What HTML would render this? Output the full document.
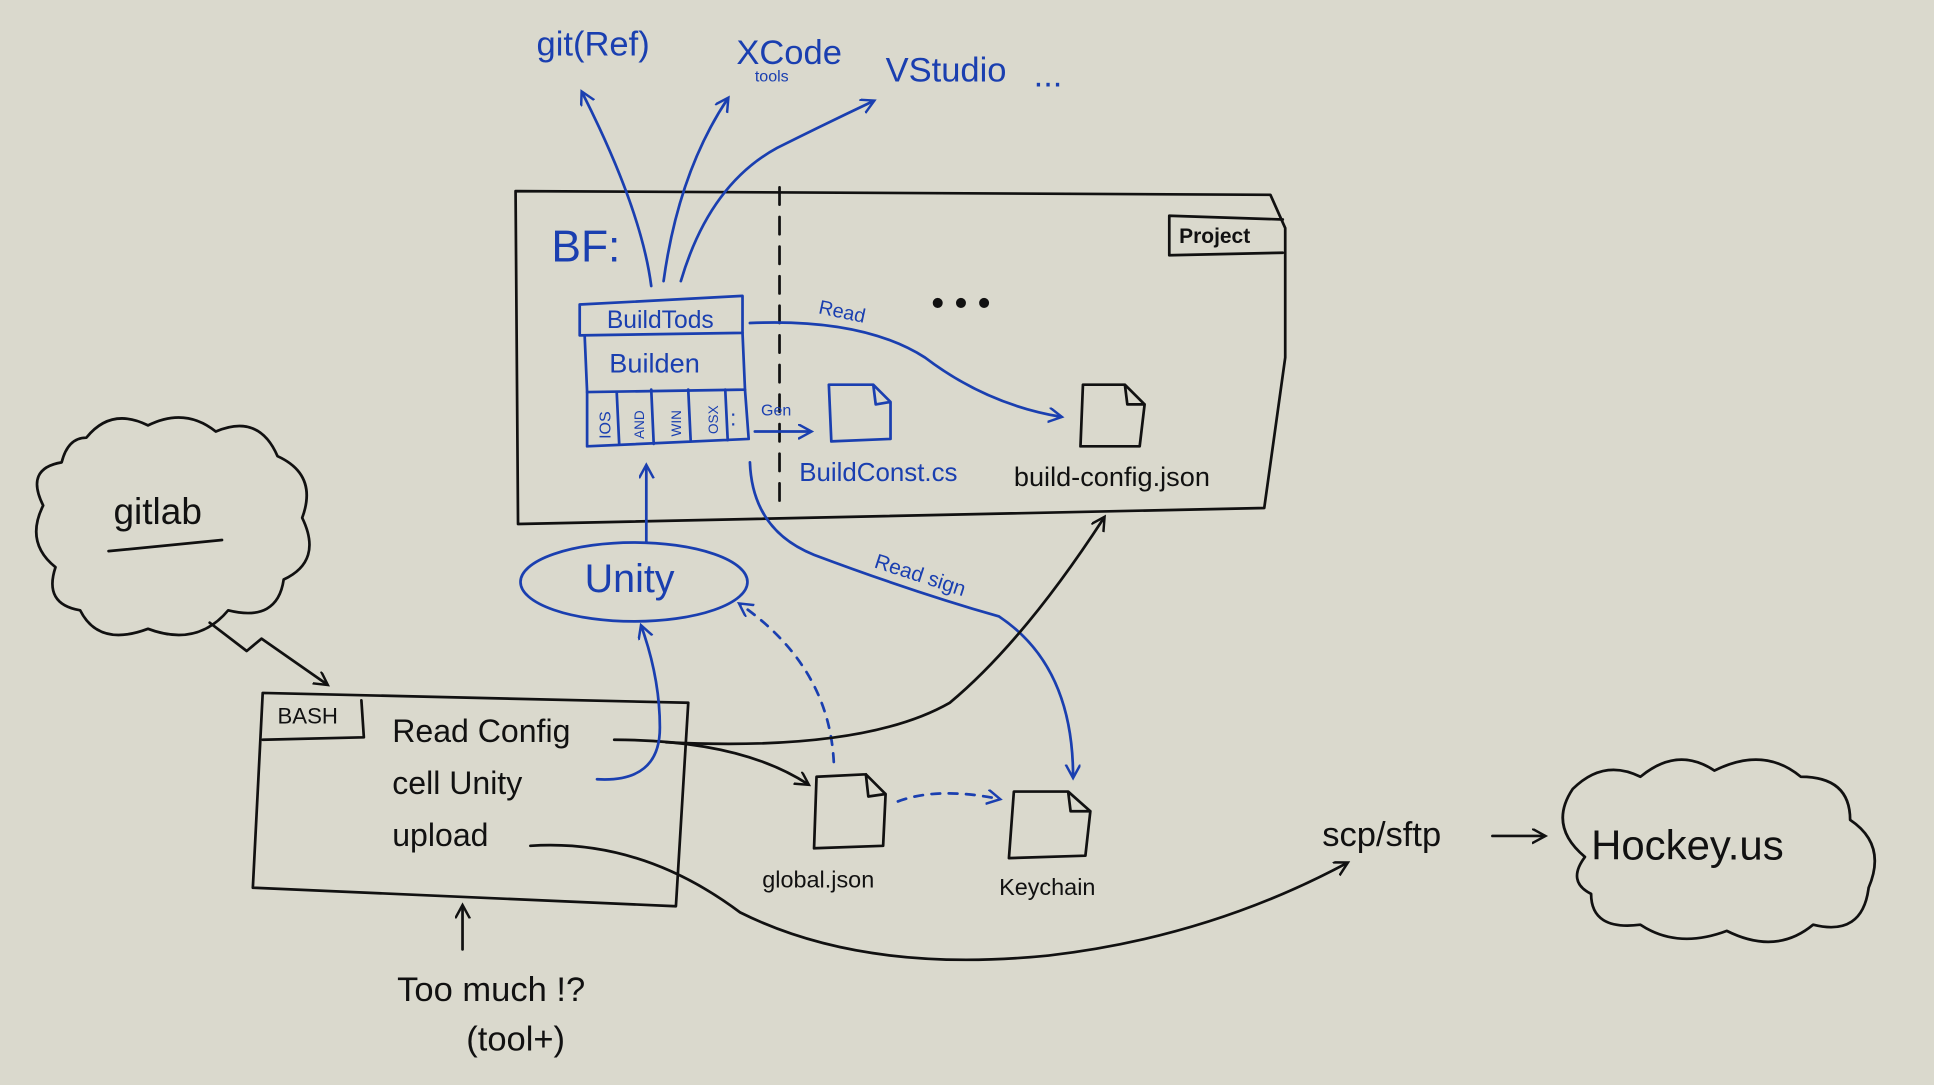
<!DOCTYPE html>
<html><head><meta charset="utf-8"><style>
html,body{margin:0;padding:0;background:#dad9cd;}
svg{display:block}
text{font-family:"Liberation Sans",sans-serif;}
.k{stroke:#111;fill:none;stroke-width:2.2;stroke-linecap:round;stroke-linejoin:round}
.b{stroke:#1a3fb0;fill:none;stroke-width:2.2;stroke-linecap:round;stroke-linejoin:round}
.bt{fill:#1a3fb0}
.kt{fill:#111}
</style></head><body>
<svg width="1934" height="1085" viewBox="0 0 1568 880" preserveAspectRatio="none">
<defs>
<marker id="ak" markerWidth="14" markerHeight="14" refX="10" refY="6" orient="auto" markerUnits="userSpaceOnUse"><path d="M0,0 L11,6 L0,12" fill="none" stroke="#111" stroke-width="2"/></marker>
<marker id="ab" markerWidth="14" markerHeight="14" refX="10" refY="6" orient="auto" markerUnits="userSpaceOnUse"><path d="M0,0 L11,6 L0,12" fill="none" stroke="#1a3fb0" stroke-width="2"/></marker>
</defs>
<rect width="1568" height="880" fill="#dad9cd"/>

<g>
<path class="k" d="M418,155 L1030,158 L1042,185 L1042,290 L1025,412 L420,425 Z"/>
<path class="k" d="M948,175 L1040,178 M948,175 L948,207 L1040,205"/>
<text x="956" y="197" font-size="17" class="kt" font-weight="bold">Project</text>
<path class="k" d="M632,152 L632,415" stroke-dasharray="14 10"/>
</g>

<text x="447" y="212" font-size="36" class="bt">BF:</text>

<g>
<path class="b" d="M470,247 L602,240 L602,270 L470,272 Z"/>
<text x="492" y="266" font-size="20" class="bt">BuildTods</text>
<path class="b" d="M474,272 L476,318 L604,316 L602,270"/>
<text x="494" y="302" font-size="22" class="bt">Builden</text>
<path class="b" d="M476,318 L476,362 L607,356 L604,316 M500,318 L502,360 M528,316 L530,360 M558,316 L560,358 M588,316 L590,357"/>
<text font-size="13" class="bt" transform="translate(495,356) rotate(-90)">IOS</text>
<text font-size="11" class="bt" transform="translate(522,356) rotate(-90)">AND</text>
<text font-size="11" class="bt" transform="translate(552,354) rotate(-90)">WIN</text>
<text font-size="11" class="bt" transform="translate(582,352) rotate(-90)">OSX</text>
<text x="592" y="345" font-size="18" class="bt">:</text>
</g>

<path class="b" d="M528,232 Q520,170 472,75" marker-end="url(#ab)"/>
<path class="b" d="M538,228 Q550,140 590,80" marker-end="url(#ab)"/>
<path class="b" d="M552,228 Q575,150 630,120 Q670,100 708,82" marker-end="url(#ab)"/>
<text x="435" y="45" font-size="28" class="bt">git(Ref)</text>
<text x="597" y="52" font-size="28" class="bt">XCode</text>
<text x="612" y="66" font-size="13" class="bt">tools</text>
<text x="718" y="66" font-size="28" class="bt">VStudio</text>
<text x="838" y="70" font-size="28" class="bt">...</text>

<text x="663" y="254" font-size="16" class="bt" transform="rotate(12 663 254)">Read</text>
<text x="755" y="256" font-size="30" class="kt">• • •</text>
<path class="b" d="M608,262 Q700,258 750,290 Q800,328 860,338" marker-end="url(#ab)"/>

<g>
<path class="b" d="M672,312 L708,312 L722,326 L722,356 L674,358 Z M708,312 L710,328 L722,326"/>
<text x="648" y="390" font-size="21" class="bt">BuildConst.cs</text>
</g>
<g>
<path class="k" d="M878,312 L912,312 L928,328 L924,362 L876,362 Z M912,312 L914,328 L928,328"/>
<text x="822" y="394" font-size="22" class="kt">build-config.json</text>
</g>
<path class="b" d="M612,350 L657,350" marker-end="url(#ab)"/>
<text x="617" y="337" font-size="13" class="bt">Gen</text>

<g>
<ellipse cx="514" cy="472" rx="92" ry="32" class="b"/>
<text x="474" y="480" font-size="32" class="bt">Unity</text>
</g>
<path class="b" d="M524,440 L524,378" marker-end="url(#ab)"/>
<path class="b" d="M608,375 Q610,430 660,450 Q740,480 810,500 Q870,540 870,630" marker-end="url(#ab)"/>
<text x="708" y="460" font-size="17" class="bt" transform="rotate(18 708 460)">Read sign</text>
<path class="b" d="M676,618 Q672,540 600,490" stroke-dasharray="7 7" marker-end="url(#ab)"/>
<path class="b" d="M728,650 Q760,638 810,648" stroke-dasharray="7 7" marker-end="url(#ab)"/>

<g>
<path class="k" d="M662,630 L702,628 L718,644 L716,686 L660,688 Z M702,628 L704,646 L718,644"/>
<text x="618" y="720" font-size="19" class="kt">global.json</text>
</g>
<g>
<path class="k" d="M822,642 L866,642 L884,658 L880,694 L818,696 Z M866,642 L868,658 L884,658"/>
<text x="810" y="726" font-size="19" class="kt">Keychain</text>
</g>

<g>
<path class="k" d="M70,355 Q90,330 120,345 Q150,330 175,350 Q210,335 225,370 Q258,385 245,420 Q262,455 230,470 Q225,505 185,495 Q160,525 120,510 Q80,525 65,495 Q35,490 45,460 Q20,440 35,410 Q20,380 50,375 Q55,355 70,355 Z"/>
<text x="92" y="425" font-size="30" class="kt">gitlab</text>
<path class="k" d="M88,447 L180,438"/>
</g>
<path class="k" d="M170,505 L200,528 L212,518 L265,555" marker-end="url(#ak)"/>

<g>
<path class="k" d="M213,562 L558,570 L548,735 L205,720 Z"/>
<path class="k" d="M213,600 L295,598 L293,568"/>
<text x="225" y="587" font-size="18" class="kt">BASH</text>
<text x="318" y="602" font-size="26" class="kt">Read  Config</text>
<text x="318" y="644" font-size="26" class="kt">cell  Unity</text>
<text x="318" y="686" font-size="26" class="kt">upload</text>
</g>
<path class="k" d="M498,600 Q600,600 655,636" marker-end="url(#ak)"/>
<path class="k" d="M540,602 Q700,610 770,570 Q830,520 895,420" marker-end="url(#ak)"/>
<path class="b" d="M484,632 Q535,635 535,590 Q535,550 520,508" marker-end="url(#ab)"/>
<path class="k" d="M430,686 Q520,680 600,740 Q700,790 850,775 Q980,760 1092,700" marker-end="url(#ak)"/>
<text x="1072" y="686" font-size="28" class="kt">scp/sftp</text>
<path class="k" d="M1210,678 L1252,678" marker-end="url(#ak)"/>

<g>
<path class="k" d="M1275,640 Q1300,615 1330,630 Q1360,605 1390,625 Q1430,605 1460,630 Q1500,630 1500,665 Q1530,685 1515,720 Q1510,760 1470,750 Q1440,775 1400,755 Q1360,770 1330,750 Q1290,755 1290,725 Q1270,715 1285,695 Q1255,670 1275,640 Z"/>
<text x="1290" y="697" font-size="34" class="kt">Hockey.us</text>
</g>

<path class="k" d="M375,770 L375,735" marker-end="url(#ak)"/>
<text x="322" y="812" font-size="28" class="kt">Too much !?</text>
<text x="378" y="852" font-size="28" class="kt">(tool+)</text>
</svg>
</body></html>
